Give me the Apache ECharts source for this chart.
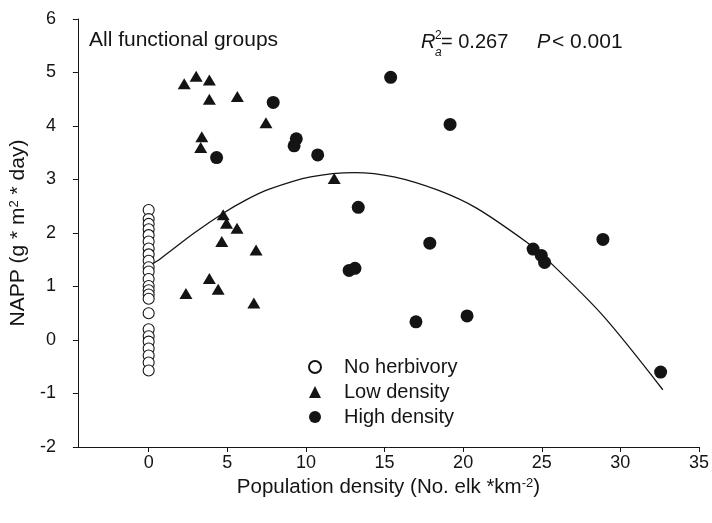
<!DOCTYPE html>
<html>
<head>
<meta charset="utf-8">
<script src="https://cdn.jsdelivr.net/npm/echarts@6/dist/echarts.min.js"></script>
<style>html,body{margin:0;padding:0;background:#fff}#chart{width:712px;height:523px}</style>
</head>
<body>
<div id="chart"></div>
<script>
// ---- data ----
const noHerbX = [0,0,0,0,0,0,0,0,0,0,0,0,0,0,0,0,0,0,0,0,0,0,0,0];
const noHerbY = [2.43,2.26,2.17,2.07,1.96,1.84,1.71,1.60,1.48,1.36,1.28,1.14,1.01,0.93,0.85,0.77,0.50,0.20,0.07,-0.03,-0.16,-0.29,-0.42,-0.57];

const lowX = [2.26,3.02,3.86,3.86,5.64,7.46,3.38,3.31,11.8,4.74,4.95,5.62,4.65,6.83,3.86,4.42,2.37,6.69];
const lowY = [4.79,4.93,4.86,4.50,4.55,4.06,3.80,3.60,3.02,2.34,2.18,2.09,1.84,1.68,1.15,0.95,0.87,0.69];

const highX = [7.92,9.39,9.25,4.32,15.39,10.75,19.17,13.33,17.88,13.12,12.75,20.25,17.0,24.45,24.97,25.18,28.89,32.56];
const highY = [4.44,3.76,3.63,3.41,4.91,3.46,4.03,2.48,1.81,1.34,1.30,0.45,0.34,1.70,1.58,1.45,1.88,-0.60];

const fitX = [0,0.75,2.85,4.74,6.2,7.67,10.3,13.1,15.6,18.4,20.88,24.13,25.18,28.85,32.7];
const fitY = [1.38,1.52,1.99,2.37,2.62,2.82,3.05,3.13,3.05,2.80,2.46,1.81,1.55,0.47,-0.93];

const xTicks = [0,5,10,15,20,25,30,35];
const seriesNames = ['No herbivory','Low density','High density'];

const zip = (xs, ys) => xs.map((x, i) => [x, ys[i]]);
const FONT = 'Liberation Sans';
const INK = '#141414';

const chart = echarts.init(document.getElementById('chart'), null, {renderer: 'canvas'});
chart.setOption({
  backgroundColor: '#fff',
  animation: false,
  textStyle: {fontFamily: FONT, color: INK},
  grid: {left: 77, right: 8, top: 19, bottom: 76},
  xAxis: {
    type: 'value', min: -4.5, max: 35,
    name: 'Population density (No. elk *km{sup|-2})',
    nameLocation: 'middle', nameGap: 27,
    nameTextStyle: {fontFamily: FONT, fontSize: 20.5, color: INK,
      rich: {sup: {fontFamily: FONT, fontSize: 13, color: INK, verticalAlign: 'top'}}},
    axisLine: {show: true, onZero: false, lineStyle: {color: INK, width: 1}},
    axisTick: {show: true, inside: false, length: 5, customValues: xTicks, lineStyle: {color: INK}},
    axisLabel: {customValues: xTicks, fontFamily: FONT, fontSize: 18, color: INK, margin: 7},
    splitLine: {show: false}
  },
  yAxis: {
    type: 'value', min: -2, max: 6, interval: 1,
    name: 'NAPP (g * m{sup|2} * day)',
    nameLocation: 'middle', nameGap: 44,
    nameTextStyle: {fontFamily: FONT, fontSize: 21, color: INK,
      rich: {sup: {fontFamily: FONT, fontSize: 13, color: INK, verticalAlign: 'top'}}},
    axisLine: {show: true, onZero: false, lineStyle: {color: INK, width: 1}},
    axisTick: {show: true, inside: false, length: 5, lineStyle: {color: INK}},
    axisLabel: {fontFamily: FONT, fontSize: 18, color: INK, margin: 22},
    splitLine: {show: false}
  },
  legend: {
    orient: 'vertical', left: 303, top: 352, itemGap: 5,
    itemWidth: 12, itemHeight: 12,
    data: seriesNames,
    textStyle: {fontFamily: FONT, fontSize: 20, color: INK, padding: [0, 0, 0, 18]}
  },
  graphic: [
    {type: 'text', left: 89, top: 30, style: {text: 'All functional groups', font: '21px "Liberation Sans"', fill: INK}},
    {type: 'text', left: 421, top: 32, style: {text: 'R', font: 'italic 20px "Liberation Sans"', fill: INK}},
    {type: 'text', left: 435, top: 30, style: {text: '2', font: '12px "Liberation Sans"', fill: INK}},
    {type: 'text', left: 435, top: 47, style: {text: 'a', font: 'italic 12px "Liberation Sans"', fill: INK}},
    {type: 'text', left: 441, top: 32, style: {text: '= 0.267', font: '20px "Liberation Sans"', fill: INK}},
    {type: 'text', left: 537, top: 32, style: {text: 'P', font: 'italic 20px "Liberation Sans"', fill: INK}},
    {type: 'text', left: 552, top: 32, style: {text: '< 0.001', font: '21px "Liberation Sans"', fill: INK}}
  ],
  series: [
    {
      name: 'Fit', type: 'line', data: zip(fitX, fitY), showSymbol: false, symbol: 'none',
      smooth: 0.3, lineStyle: {color: INK, width: 1.3}, z: 1, silent: true
    },
    {
      name: seriesNames[0], type: 'scatter', data: zip(noHerbX, noHerbY),
      symbol: 'circle', symbolSize: 11,
      itemStyle: {color: '#fff', borderColor: INK, borderWidth: 1.1, opacity: 1}, z: 3
    },
    {
      name: seriesNames[1], type: 'scatter', data: zip(lowX, lowY),
      symbol: 'triangle', symbolSize: [13, 11],
      itemStyle: {color: INK, opacity: 1}, z: 3
    },
    {
      name: seriesNames[2], type: 'scatter', data: zip(highX, highY),
      symbol: 'circle', symbolSize: 13,
      itemStyle: {color: INK, opacity: 1}, z: 3
    }
  ]
});
</script>
</body>
</html>
